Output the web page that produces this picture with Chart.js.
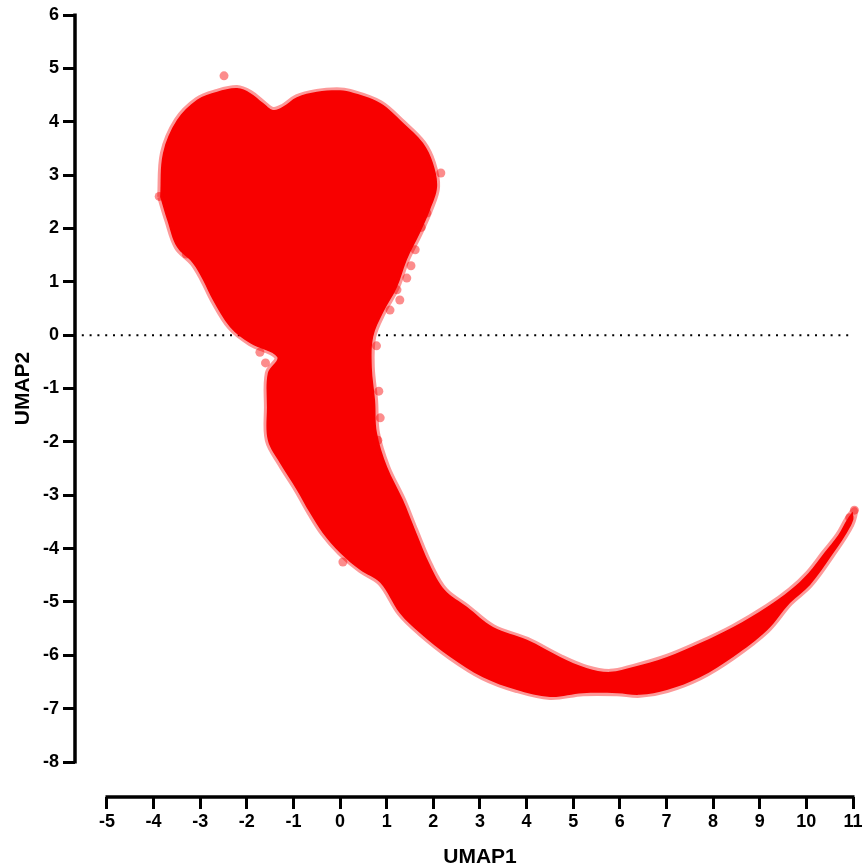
<!DOCTYPE html>
<html>
<head>
<meta charset="utf-8">
<script src="https://cdn.jsdelivr.net/npm/chart.js@4/dist/chart.umd.min.js"></script>
<style>
  html, body { margin: 0; padding: 0; background: #fff; }
  #umap { display: block; }
</style>
</head>
<body>
<canvas id="umap" width="866" height="866"></canvas>
<script>
// outline of the cell cloud, traced clockwise from the left lobe
var outlineX = [-3.86, -3.80, -3.50, -3.07, -2.64, -2.21, -1.93, -1.65, -1.44, -1.23, -0.93, -0.50, -0.07, 0.21,
  0.86, 1.35, 1.78, 1.99, 2.08, 1.93, 1.71, 1.43, 1.22, 0.92, 0.71, 0.68, 0.75, 0.79, 1.01, 1.35, 1.61, 1.93,
  2.25, 2.72, 3.28, 4.01, 4.72, 5.30, 5.79, 6.28, 7.01, 7.72, 8.43, 9.16, 9.65, 10.04, 10.38, 10.68, 10.89,
  11.04, 10.96, 10.55, 10.08, 9.65, 9.16, 8.43, 7.72, 7.01, 6.43, 5.94, 5.21, 4.50, 3.79, 3.06, 2.36, 1.71,
  1.28, 0.86, 0.43, 0.00, -0.37, -0.65, -0.93, -1.29, -1.55, -1.57, -1.55, -1.35, -1.93, -2.36, -2.73, -2.94,
  -3.16, -3.50, -3.71, -3.86];
var outlineY = [2.59, 3.41, 4.03, 4.41, 4.56, 4.63, 4.54, 4.35, 4.22, 4.28, 4.46, 4.56, 4.59, 4.56,
  4.35, 3.98, 3.60, 3.23, 2.78, 2.35, 1.91, 1.41, 0.90, 0.42, -0.03, -0.60, -1.22, -1.83, -2.47, -3.09, -3.65, -4.31,
  -4.78, -5.09, -5.47, -5.71, -6.03, -6.24, -6.31, -6.22, -6.03, -5.77, -5.47, -5.09, -4.78, -4.46, -4.08, -3.75, -3.43,
  -3.28, -3.56, -4.12, -4.68, -5.02, -5.53, -6.03, -6.41, -6.65, -6.74, -6.71, -6.71, -6.78, -6.65, -6.41, -6.03, -5.58,
  -5.21, -4.64, -4.40, -4.08, -3.71, -3.33, -2.90, -2.40, -1.97, -1.35, -0.71, -0.41, -0.15, 0.15, 0.66, 1.03,
  1.35, 1.65, 2.16, 2.59];

// loose cells sitting just off the main cloud
var strayX = [-2.49, 2.16, 1.07, 1.43, 1.22, 1.86, 0.86, 0.81, 0.06, -1.72, 1.61, 1.28, -3.88, 11.03, 10.93,
  1.74, 1.52, 0.78, 0.83, -1.60, -3.30];
var strayY = [4.86, 3.04, 0.47, 1.07, 0.85, 2.29, -1.55, -1.97, -4.25, -0.32, 1.60, 0.66, 2.60, -3.28, -3.42,
  2.02, 1.30, -0.20, -1.05, -0.52, 1.52];

var xTicks = [-5, -4, -3, -2, -1, 0, 1, 2, 3, 4, 5, 6, 7, 8, 9, 10, 11];
var yTicks = [-8, -7, -6, -5, -4, -3, -2, -1, 0, 1, 2, 3, 4, 5, 6];
var xTitle = 'UMAP1';
var yTitle = 'UMAP2';

function zip(xs, ys) {
  return xs.map(function(x, i) { return { x: x, y: ys[i] }; });
}

var cellRed = 'rgb(248,0,0)';
var cellRedSoft = 'rgba(248,0,0,0.45)';
var cellRedEdge = 'rgba(248,0,0,0.4)';
var boldFont = "bold 21px 'Liberation Sans', Arial, sans-serif";

// axis lines stop at the first and last tick, set off from the data (prism style);
// titles are centred on those spans rather than on the whole chart area
var offsetAxes = {
  id: 'offsetAxes',
  afterDraw: function(chart) {
    var ctx = chart.ctx, area = chart.chartArea;
    var xs = chart.scales.x, ys = chart.scales.y;
    var yTop = ys.getPixelForValue(yTicks[yTicks.length - 1]);
    var yBot = ys.getPixelForValue(yTicks[0]);
    var xLeft = xs.getPixelForValue(xTicks[0]);
    var xRight = xs.getPixelForValue(xTicks[xTicks.length - 1]);
    ctx.save();
    ctx.strokeStyle = '#000';
    ctx.lineWidth = 3.5;
    ctx.beginPath();
    ctx.moveTo(area.left, yTop - 1.5);
    ctx.lineTo(area.left, yBot + 1.5);
    ctx.moveTo(xLeft - 1.5, area.bottom);
    ctx.lineTo(xRight + 1.5, area.bottom);
    ctx.stroke();

    ctx.fillStyle = '#000';
    ctx.font = boldFont;
    ctx.textAlign = 'center';
    ctx.textBaseline = 'alphabetic';
    ctx.fillText(xTitle, (xLeft + xRight) / 2, area.bottom + 66);
    ctx.translate(area.left - 46, (yTop + yBot) / 2);
    ctx.rotate(-Math.PI / 2);
    ctx.fillText(yTitle, 0, 0);
    ctx.restore();
  }
};

Chart.defaults.font.family = "'Liberation Sans', Arial, sans-serif";
Chart.defaults.font.weight = 'bold';
Chart.defaults.color = '#000';

new Chart(document.getElementById('umap'), {
  type: 'scatter',
  data: {
    datasets: [
      {
        label: 'zero',
        data: [{ x: -5.54, y: 0 }, { x: 11, y: 0 }],
        showLine: true,
        borderColor: '#000',
        borderWidth: 2,
        borderDash: [2, 5.8],
        pointRadius: 0,
        order: 3
      },
      {
        label: 'cells',
        data: zip(outlineX, outlineY),
        showLine: true,
        tension: 0.35,
        fill: 'shape',
        backgroundColor: cellRed,
        borderColor: cellRedEdge,
        borderWidth: 6,
        pointRadius: 0,
        clip: false,
        order: 2
      },
      {
        label: 'stray',
        data: zip(strayX, strayY),
        backgroundColor: cellRedSoft,
        borderWidth: 0,
        pointRadius: 4.5,
        clip: false,
        order: 1
      }
    ]
  },
  options: {
    responsive: false,
    animation: false,
    layout: { padding: { top: 15, right: 13, left: 0, bottom: 0 } },
    plugins: { legend: { display: false }, tooltip: { enabled: false } },
    scales: {
      x: {
        type: 'linear',
        min: -5.686,
        max: 11,
        afterBuildTicks: function(scale) {
          scale.ticks = xTicks.map(function(v) { return { value: v }; });
        },
        afterFit: function(scale) { scale.height = 69; },
        grid: { drawOnChartArea: false, drawTicks: true, tickLength: 12, lineWidth: 3, color: '#000' },
        border: { display: false },
        ticks: { padding: 2, maxRotation: 0, autoSkip: false, font: { size: 18, weight: 'bold' } }
      },
      y: {
        type: 'linear',
        min: -8.655,
        max: 6,
        afterBuildTicks: function(scale) {
          scale.ticks = yTicks.map(function(v) { return { value: v }; });
        },
        afterFit: function(scale) { scale.width = 75; },
        grid: { drawOnChartArea: false, drawTicks: true, tickLength: 12, lineWidth: 3, color: '#000' },
        border: { display: false },
        ticks: { padding: 4, autoSkip: false, font: { size: 18, weight: 'bold' } }
      }
    }
  },
  plugins: [offsetAxes]
});
</script>
</body>
</html>
